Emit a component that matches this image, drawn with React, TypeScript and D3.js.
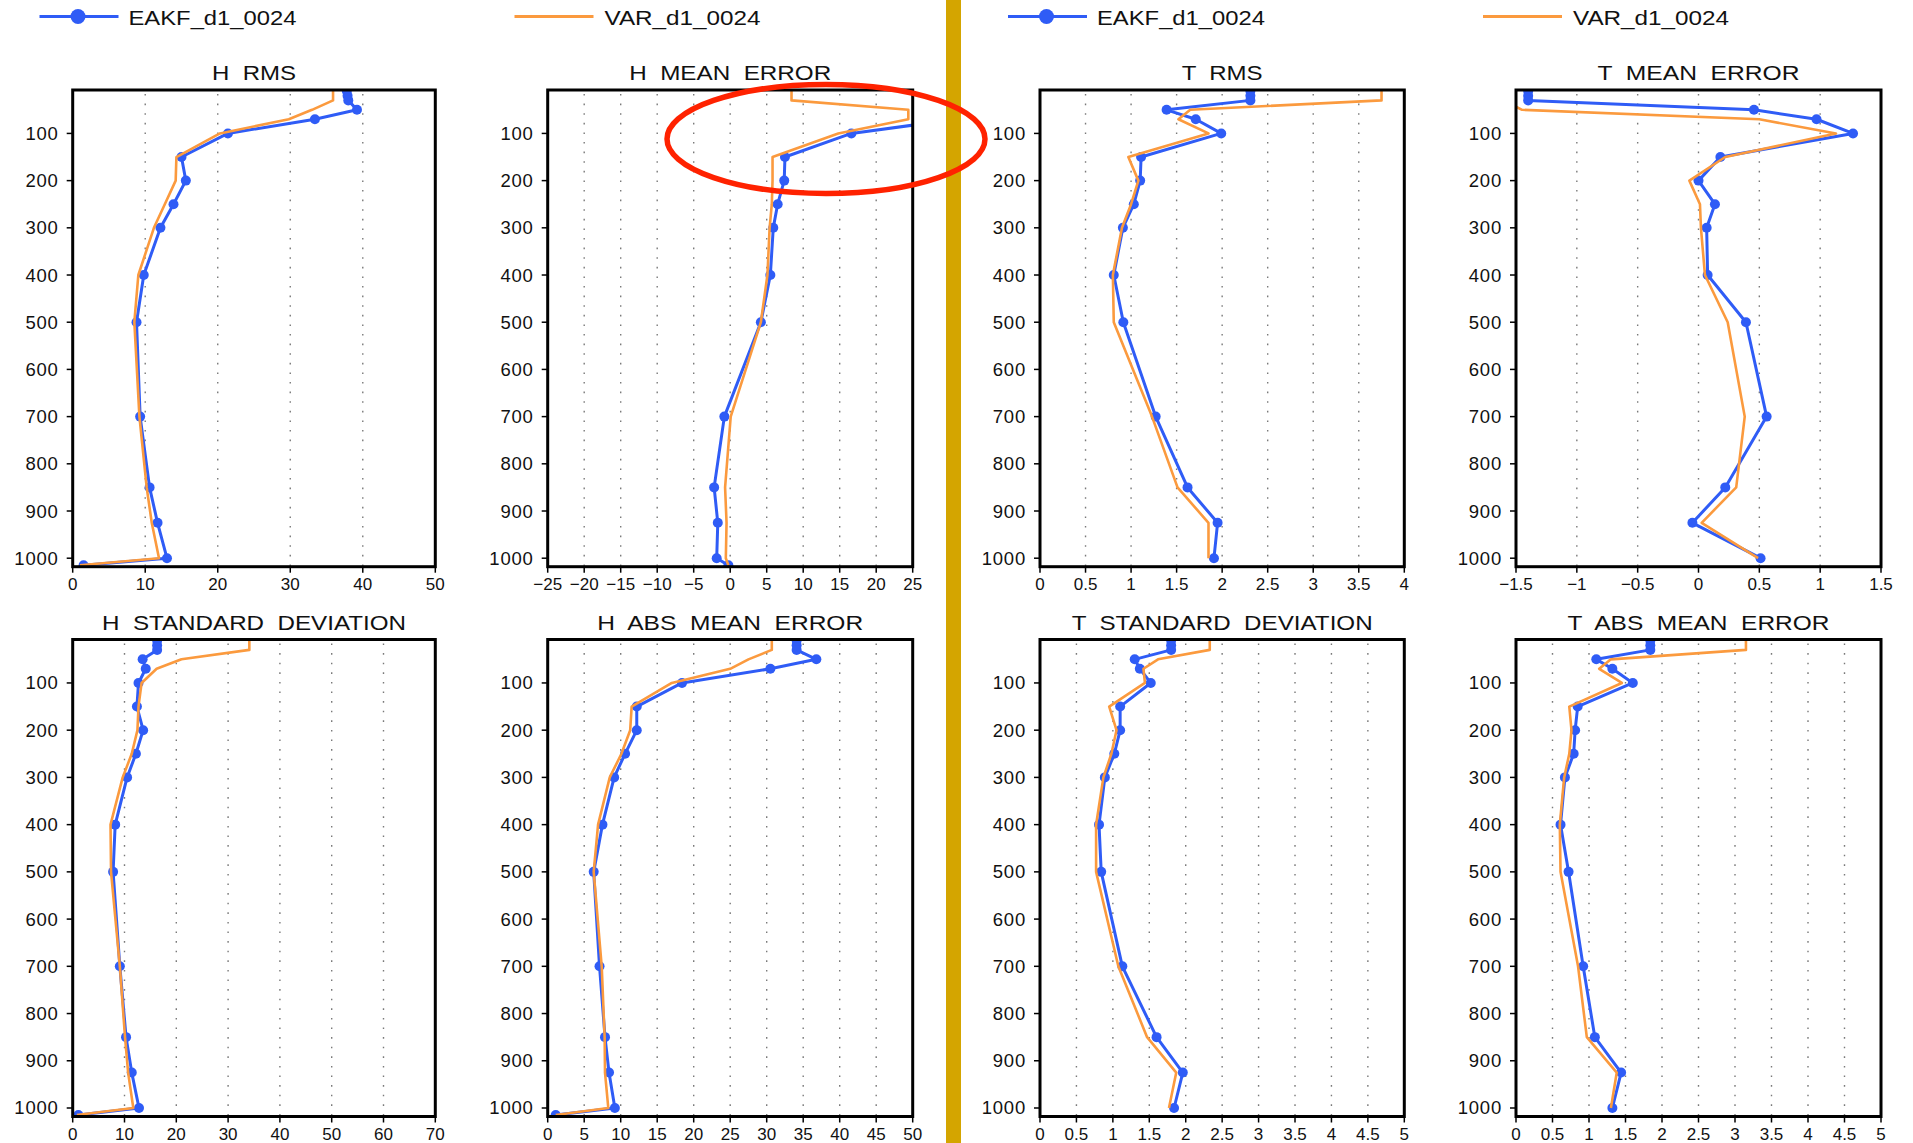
import React from 'react';
import * as d3 from 'd3';

// pressure levels (hPa); the last one only exists for the H panels
const levels = [10, 20, 30, 50, 70, 100, 150, 200, 250, 300, 400, 500, 700, 850, 925, 1000, 1015];
const pressureTicks = [100, 200, 300, 400, 500, 600, 700, 800, 900, 1000];

const hRmsEakf = [37.8, 37.9, 38.0, 39.2, 33.4, 21.4, 15.0, 15.6, 13.9, 12.1, 9.8, 8.8, 9.3, 10.6, 11.7, 13.0, 1.5];
const hRmsVar = [35.9, 35.9, 35.9, 33.0, 29.8, 20.3, 14.3, 14.2, 12.7, 11.2, 9.05, 8.5, 9.2, 10.2, 10.9, 11.9, 1.0];

const hMeanEakf = [33, 33.5, 34, 36, 31, 16.6, 7.5, 7.4, 6.5, 5.9, 5.5, 4.2, -0.8, -2.2, -1.7, -1.85, -0.25];
const hMeanVar = [8.4, 8.4, 8.4, 24.4, 24.4, 14.8, 5.8, 5.8, 5.7, 5.4, 5.1, 4.2, 0.07, -0.7, -0.5, -0.6, -0.25];

const tRmsEakf = [2.31, 2.31, 2.31, 1.39, 1.71, 1.99, 1.11, 1.1, 1.03, 0.91, 0.81, 0.915, 1.27, 1.62, 1.95, 1.91, null];
const tRmsVar = [3.75, 3.75, 3.75, 1.65, 1.52, 1.85, 0.97, 1.08, 1.0, 0.9, 0.8, 0.81, 1.23, 1.51, 1.85, 1.85, null];

const tMeanEakf = [-1.4, -1.4, -1.4, 0.456, 0.97, 1.27, 0.18, 0.0, 0.135, 0.067, 0.075, 0.39, 0.56, 0.22, -0.05, 0.51, null];
const tMeanVar = [-1.6, -1.6, -1.6, -1.45, 0.5, 1.13, 0.22, -0.075, 0.012, 0.02, 0.053, 0.24, 0.38, 0.31, 0.026, 0.49, null];

const hStdEakf = [16.3, 16.3, 16.3, 13.5, 14.1, 12.7, 12.4, 13.6, 12.2, 10.5, 8.2, 7.8, 9.1, 10.3, 11.4, 12.8, 1.1];
const hStdVar = [34.1, 34.1, 34.1, 21.0, 16.2, 13.3, 12.7, 12.5, 11.4, 9.65, 7.3, 7.4, 9.1, 10.1, 10.7, 11.7, 0.8];

const hAbsEakf = [34.1, 34.1, 34.1, 36.8, 30.5, 18.4, 12.2, 12.2, 10.6, 9.1, 7.5, 6.3, 7.1, 7.85, 8.4, 9.2, 1.1];
const hAbsVar = [30.7, 30.7, 30.7, 27.5, 25.0, 17.0, 11.5, 11.3, 10.1, 8.5, 6.9, 6.3, 7.4, 7.8, 7.85, 8.3, 1.1];

const tStdEakf = [1.8, 1.8, 1.8, 1.3, 1.37, 1.52, 1.1, 1.1, 1.02, 0.89, 0.81, 0.84, 1.13, 1.6, 1.96, 1.84, null];
const tStdVar = [2.33, 2.33, 2.33, 1.62, 1.42, 1.44, 0.95, 1.05, 0.98, 0.87, 0.77, 0.77, 1.075, 1.47, 1.87, 1.77, null];

const tAbsEakf = [1.84, 1.84, 1.84, 1.1, 1.32, 1.6, 0.845, 0.81, 0.79, 0.67, 0.61, 0.72, 0.92, 1.08, 1.44, 1.32, null];
const tAbsVar = [3.15, 3.15, 3.15, 1.3, 1.14, 1.45, 0.73, 0.76, 0.73, 0.66, 0.6, 0.61, 0.85, 0.97, 1.38, 1.3, null];

const ticks0to50by10 = [0, 10, 20, 30, 40, 50];
const ticksMinus25to25 = [-25, -20, -15, -10, -5, 0, 5, 10, 15, 20, 25];
const ticks0to4 = [0, 0.5, 1, 1.5, 2, 2.5, 3, 3.5, 4];
const ticksMinus15to15 = [-1.5, -1, -0.5, 0, 0.5, 1, 1.5];
const ticks0to70 = [0, 10, 20, 30, 40, 50, 60, 70];
const ticks0to50by5 = [0, 5, 10, 15, 20, 25, 30, 35, 40, 45, 50];
const ticks0to5 = [0, 0.5, 1, 1.5, 2, 2.5, 3, 3.5, 4, 4.5, 5];

const seriesNames = ['EAKF_d1_0024', 'VAR_d1_0024'];

const panels = [
  { title: 'H  RMS', ticks: ticks0to50by10, eakf: hRmsEakf, var: hRmsVar },
  { title: 'H  MEAN  ERROR', ticks: ticksMinus25to25, eakf: hMeanEakf, var: hMeanVar },
  { title: 'T  RMS', ticks: ticks0to4, eakf: tRmsEakf, var: tRmsVar },
  { title: 'T  MEAN  ERROR', ticks: ticksMinus15to15, eakf: tMeanEakf, var: tMeanVar },
  { title: 'H  STANDARD  DEVIATION', ticks: ticks0to70, eakf: hStdEakf, var: hStdVar },
  { title: 'H  ABS  MEAN  ERROR', ticks: ticks0to50by5, eakf: hAbsEakf, var: hAbsVar },
  { title: 'T  STANDARD  DEVIATION', ticks: ticks0to5, eakf: tStdEakf, var: tStdVar },
  { title: 'T  ABS  MEAN  ERROR', ticks: ticks0to5, eakf: tAbsEakf, var: tAbsVar },
];

// layout
const W = 1913;
const H = 1143;
const columns = [[72.7, 435.3], [547.7, 912.7], [1040, 1404.3], [1516, 1881]];
const rows = [[90, 566.7], [639.5, 1116.5]];
const titleLengths = [84, 202, 81, 202, 304, 266, 301, 262];
const BLUE = '#2f5cf6';
const ORANGE = '#fb9a3e';
const FONT = '"Liberation Sans", Arial, sans-serif';

const fmt = (v: number) => (v < 0 ? '\u2212' + Math.abs(v) : String(v));

function Panel({ spec, idx }: { spec: any; idx: number }) {
  const [x0, x1] = columns[idx % 4];
  const [y0, y1] = rows[Math.floor(idx / 4)];
  const ticks: number[] = spec.ticks;
  const x = d3.scaleLinear().domain([ticks[0], ticks[ticks.length - 1]]).range([x0, x1]);
  const y = d3.scaleLinear().domain([8, 1018]).range([y0, y1]);
  const pts = (vals: (number | null)[]) => levels.map((p, i) => [p, vals[i]] as [number, number | null]);
  const line = d3
    .line<[number, number | null]>()
    .defined((d) => d[1] != null)
    .x((d) => x(d[1] as number))
    .y((d) => y(d[0]));
  const clipId = `clip${idx}`;
  const eakf = pts(spec.eakf).filter((d) => d[1] != null);
  return (
    <g>
      <defs>
        <clipPath id={clipId}>
          <rect x={x0} y={y0} width={x1 - x0} height={y1 - y0} />
        </clipPath>
      </defs>
      {/* dotted grid */}
      {ticks.slice(1, -1).map((t) => (
        <line key={t} x1={x(t)} x2={x(t)} y1={y0 + 4} y2={y1} stroke="#7a7a7a" strokeWidth={1.4} strokeDasharray="1.6 8" />
      ))}
      <g clipPath={`url(#${clipId})`}>
        <path d={line(pts(spec.eakf)) || ''} fill="none" stroke={BLUE} strokeWidth={3} strokeLinejoin="round" />
        {eakf.map((d, i) => (
          <circle key={i} cx={x(d[1] as number)} cy={y(d[0])} r={5} fill={BLUE} />
        ))}
        <path d={line(pts(spec.var)) || ''} fill="none" stroke={ORANGE} strokeWidth={2.6} strokeLinejoin="round" />
      </g>
      <rect x={x0} y={y0} width={x1 - x0} height={y1 - y0} fill="none" stroke="#000" strokeWidth={3} />
      {/* y axis */}
      {pressureTicks.map((p) => (
        <g key={p}>
          <line x1={x0 - 6} x2={x0} y1={y(p)} y2={y(p)} stroke="#000" strokeWidth={1.5} />
          <text x={x0 - 14} y={y(p) + 6.5} textAnchor="end" fontSize={18.5} fontFamily={FONT} fill="#111" letterSpacing={0.8}>
            {p}
          </text>
        </g>
      ))}
      {/* x axis */}
      {ticks.map((t) => (
        <g key={t}>
          <line x1={x(t)} x2={x(t)} y1={y1} y2={y1 + 6} stroke="#000" strokeWidth={1.5} />
          <text x={x(t)} y={y1 + 23} textAnchor="middle" fontSize={17} fontFamily={FONT} fill="#111">
            {fmt(t)}
          </text>
        </g>
      ))}
      <text
        x={(x0 + x1) / 2}
        y={y0 - 10}
        textAnchor="middle"
        fontSize={21}
        fontFamily={FONT}
        fill="#111"
        textLength={titleLengths[idx]}
        lengthAdjust="spacingAndGlyphs"
        style={{ whiteSpace: 'pre' }}
      >
        {spec.title}
      </text>
    </g>
  );
}

function Legend({ x0 }: { x0: number }) {
  return (
    <g>
      <line x1={x0} x2={x0 + 79} y1={16.5} y2={16.5} stroke={BLUE} strokeWidth={3} />
      <circle cx={x0 + 38.5} cy={16.5} r={7.5} fill={BLUE} />
      <text x={x0 + 89} y={25} fontSize={21} fontFamily={FONT} fill="#111" textLength={168} lengthAdjust="spacingAndGlyphs">
        {seriesNames[0]}
      </text>
      <line x1={x0 + 475} x2={x0 + 554} y1={16.5} y2={16.5} stroke={ORANGE} strokeWidth={3} />
      <text x={x0 + 565} y={25} fontSize={21} fontFamily={FONT} fill="#111" textLength={156} lengthAdjust="spacingAndGlyphs">
        {seriesNames[1]}
      </text>
    </g>
  );
}

export default function App() {
  return (
    <svg
      width={W}
      height={H}
      viewBox={`0 0 ${W} ${H}`}
      style={{ position: 'absolute', left: 0, top: 0, display: 'block', background: '#fff' }}
    >
      <rect x={0} y={0} width={W} height={H} fill="#fff" />
      <Legend x0={39.5} />
      <Legend x0={1008} />
      {panels.map((p, i) => (
        <Panel key={i} spec={p} idx={i} />
      ))}
      <rect x={946} y={0} width={15} height={H} fill="#d4a500" />
      <ellipse cx={826} cy={139} rx={159} ry={54.5} fill="none" stroke="#ff2200" strokeWidth={5.5} />
    </svg>
  );
}
